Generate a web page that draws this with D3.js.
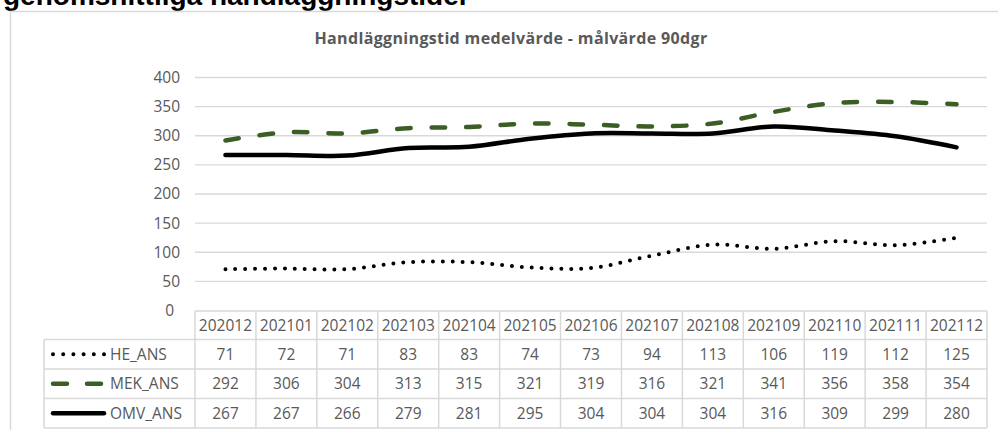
<!DOCTYPE html>
<html>
<head>
<meta charset="utf-8">
<script src="https://cdn.jsdelivr.net/npm/d3@7"></script>
<style>
  body { margin: 0; background: #fff; }
  svg { display: block; }
</style>
</head>
<body>
<svg></svg>
<script>
// chart data
const months = ["202012","202101","202102","202103","202104","202105","202106","202107","202108","202109","202110","202111","202112"];
const heAns  = [71, 72, 71, 83, 83, 74, 73, 94, 113, 106, 119, 112, 125];
const mekAns = [292, 306, 304, 313, 315, 321, 319, 316, 321, 341, 356, 358, 354];
const omvAns = [267, 267, 266, 279, 281, 295, 304, 304, 304, 316, 309, 299, 280];
const seriesNames = ["HE_ANS", "MEK_ANS", "OMV_ANS"];
const yTicks = [0, 50, 100, 150, 200, 250, 300, 350, 400];

(function drawChart() {
  const W = 998, H = 430;
  const svg = d3.select("svg").attr("width", W).attr("height", H);
  const font = "'Open Sans', sans-serif";
  const grey = "#595959", grid = "#d9d9d9";

  // page heading, cut off at the top
  svg.append("text")
      .attr("x", 3).attr("y", 5)
      .style("font-family", "'Liberation Sans', Arial, sans-serif")
      .style("font-weight", "bold").style("font-size", "28px")
      .attr("fill", "#000")
      .text("genomsnittliga handläggningstider");

  // chart frame
  svg.append("path")
      .attr("d", "M10.5," + H + "V11.5H" + W)
      .attr("fill", "none").attr("stroke", grid).attr("stroke-width", 1.5);

  svg.append("text")
      .attr("x", 511).attr("y", 44)
      .attr("text-anchor", "middle")
      .style("font-family", font).style("font-weight", "bold").style("font-size", "16px")
      .style("letter-spacing", "0.35px")
      .attr("fill", grey)
      .text("Handläggningstid  medelvärde - målvärde 90dgr");

  const x = d3.scaleBand().domain(months).range([195, 987]);
  const y = d3.scaleLinear().domain([0, 400]).range([310.5, 77.5]);

  // gridlines
  svg.append("g")
      .selectAll("line")
      .data(yTicks.filter(d => d > 0))
      .join("line")
      .attr("x1", 195).attr("x2", 987)
      .attr("y1", d => y(d)).attr("y2", d => y(d))
      .attr("stroke", grid).attr("stroke-width", 1.3);

  // y axis labels
  const yAxis = svg.append("g")
      .attr("transform", "translate(180,0)")
      .call(d3.axisLeft(y).tickValues(yTicks).tickSize(0).tickPadding(0));
  yAxis.select(".domain").remove();
  yAxis.selectAll("text")
      .style("font-family", font).style("font-size", "15.5px")
      .attr("fill", grey);
  yAxis.selectAll(".tick").filter(d => d === 0).select("text").attr("dx", -6);

  // series styles
  const styles = [
    {data: heAns,  color: "#000",    width: 4,   dash: "0,9.9"},
    {data: mekAns, color: "#3b5e24", width: 4.5, dash: "13.5,21"},
    {data: omvAns, color: "#000",    width: 4.5, dash: null}
  ];

  const line = d3.line()
      .x((d, i) => x(months[i]) + x.bandwidth() / 2)
      .y(d => y(d))
      .curve(d3.curveCatmullRom.alpha(0.5));

  svg.append("g")
      .selectAll("path")
      .data(styles)
      .join("path")
      .attr("d", d => line(d.data))
      .attr("fill", "none")
      .attr("stroke", d => d.color)
      .attr("stroke-width", d => d.width)
      .attr("stroke-linecap", "round")
      .attr("stroke-dasharray", d => d.dash);

  // data table
  const tTop = 311, headH = 28.5, rowH = 29.5;
  const tBottom = tTop + headH + rowH * 3;
  const table = svg.append("g");

  // horizontal rules
  const hLines = [{y: tTop, x1: 195}];
  for (let r = 0; r <= 3; r++) hLines.push({y: tTop + headH + r * rowH, x1: 44});
  table.selectAll("line.h")
      .data(hLines)
      .join("line")
      .attr("class", "h")
      .attr("x1", d => d.x1).attr("x2", 987)
      .attr("y1", d => d.y).attr("y2", d => d.y)
      .attr("stroke", grid).attr("stroke-width", 1.5);

  // vertical rules
  const vXs = months.map(m => x(m)).concat([987]);
  table.selectAll("line.v")
      .data(vXs)
      .join("line")
      .attr("class", "v")
      .attr("x1", d => d).attr("x2", d => d)
      .attr("y1", tTop).attr("y2", tBottom)
      .attr("stroke", grid).attr("stroke-width", 1.5);
  table.append("line")
      .attr("x1", 44).attr("x2", 44)
      .attr("y1", tTop + headH).attr("y2", tBottom)
      .attr("stroke", grid).attr("stroke-width", 1.5);

  // header labels
  table.selectAll("text.head")
      .data(months)
      .join("text")
      .attr("class", "head")
      .attr("x", d => x(d) + x.bandwidth() / 2)
      .attr("y", tTop + headH / 2)
      .attr("dy", "0.36em")
      .attr("text-anchor", "middle")
      .style("font-family", font).style("font-size", "15.5px")
      .attr("fill", grey)
      .text(d => d);

  // value rows
  styles.forEach((s, r) => {
    const cy = tTop + headH + r * rowH + rowH / 2;
    table.selectAll("text.r" + r)
        .data(s.data)
        .join("text")
        .attr("class", "r" + r)
        .attr("x", (d, i) => x(months[i]) + x.bandwidth() / 2)
        .attr("y", cy)
        .attr("dy", "0.36em")
        .attr("text-anchor", "middle")
        .style("font-family", font).style("font-size", "15.5px")
        .attr("fill", grey)
        .text(d => d);

    // legend key
    table.append("line")
        .attr("x1", 53).attr("x2", 104)
        .attr("y1", cy).attr("y2", cy)
        .attr("stroke", s.color)
        .attr("stroke-width", s.width)
        .attr("stroke-linecap", "round")
        .attr("stroke-dasharray", r === 0 ? "0,10.2" : (r === 1 ? "14,20" : null));
    table.append("text")
        .attr("x", 110).attr("y", cy)
        .attr("dy", "0.36em")
        .style("font-family", font).style("font-size", "15.5px")
        .attr("fill", grey)
        .text(seriesNames[r]);
  });
})();
</script>
</body>
</html>
